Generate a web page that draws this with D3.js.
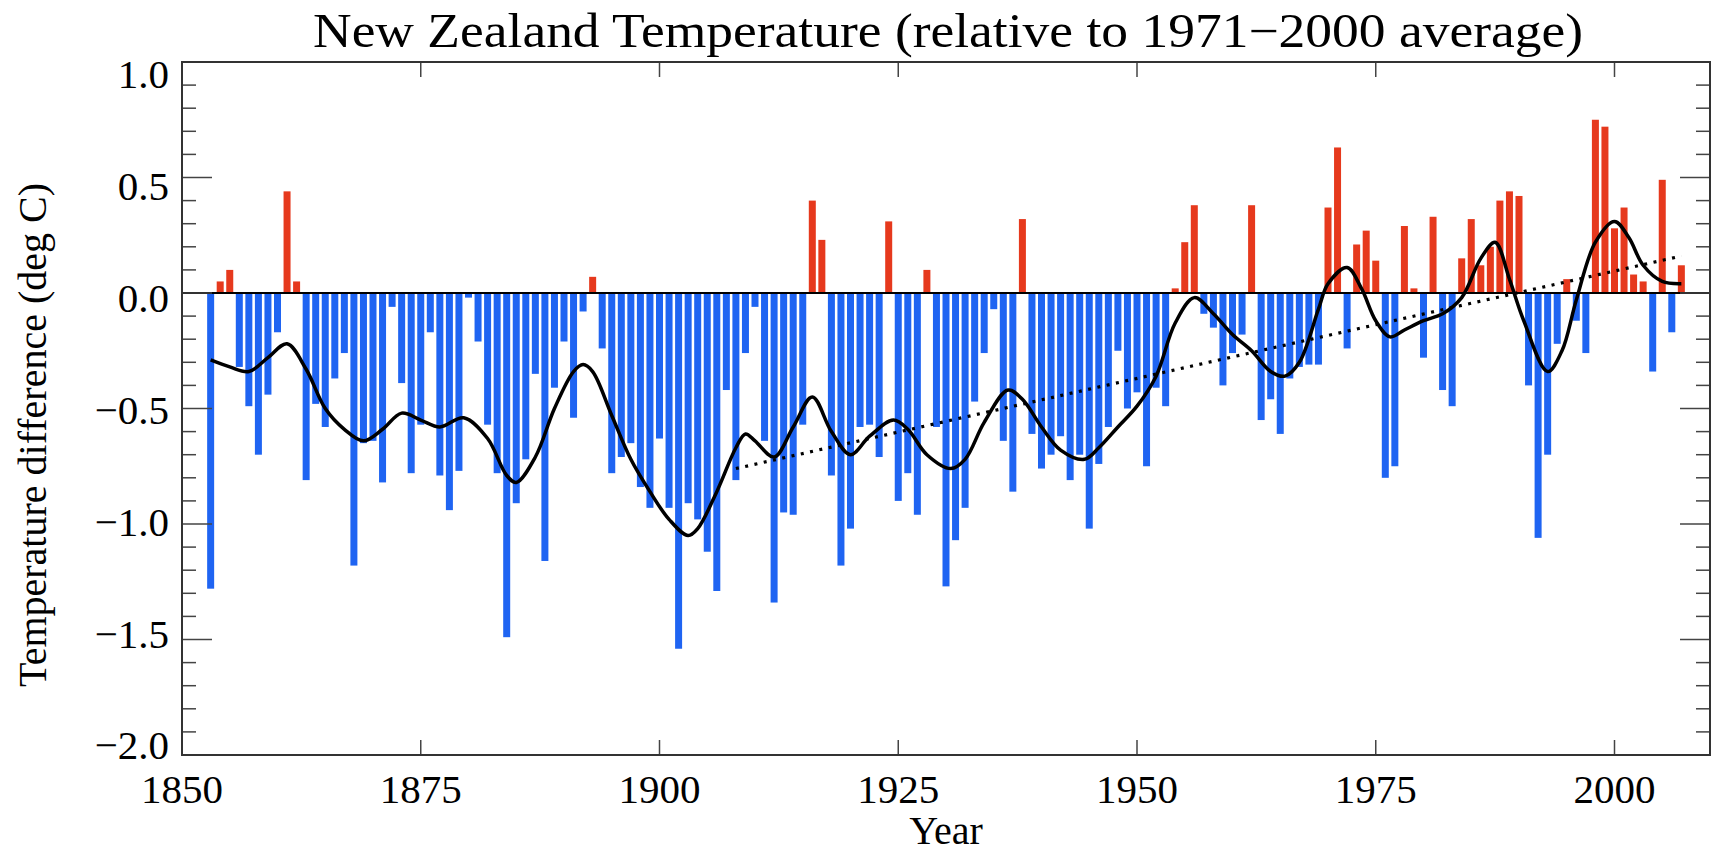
<!DOCTYPE html>
<html>
<head>
<meta charset="utf-8">
<script src="https://cdn.jsdelivr.net/npm/d3@7/dist/d3.min.js"></script>
<style>
  html, body { margin: 0; padding: 0; background: #fff; }
  svg { display: block; }
  text { font-family: "Liberation Serif", "DejaVu Serif", serif; fill: #000; }
</style>
</head>
<body>
<svg id="chart" width="1717" height="856"></svg>
<script>
'use strict';

// annual anomalies, deg C, 1853..2007
var firstYear = 1853;
var anomalies = [
  -1.28, 0.05, 0.10, -0.32, -0.49, -0.70, -0.44, -0.17, 0.44, 0.05,
  -0.81, -0.48, -0.58, -0.37, -0.26, -1.18, -0.65, -0.64, -0.82, -0.06,
  -0.39, -0.78, -0.57, -0.17, -0.79, -0.94, -0.77, -0.02, -0.21, -0.57,
  -0.78, -1.49, -0.91, -0.72, -0.35, -1.16, -0.41, -0.21, -0.54, -0.08,
  0.07, -0.24, -0.78, -0.71, -0.65, -0.84, -0.93, -0.63, -0.93, -1.54,
  -0.91, -0.98, -1.12, -1.29, -0.42, -0.81, -0.26, -0.06, -0.64, -1.34,
  -0.95, -0.96, -0.57, 0.40, 0.23, -0.79, -1.18, -1.02, -0.58, -0.57,
  -0.71, 0.31, -0.90, -0.78, -0.96, 0.10, -0.58, -1.27, -1.07, -0.93,
  -0.47, -0.26, -0.07, -0.64, -0.86, 0.32, -0.61, -0.76, -0.70, -0.62,
  -0.81, -0.70, -1.02, -0.74, -0.58, -0.25, -0.50, -0.43, -0.75, -0.41,
  -0.49, 0.02, 0.22, 0.38, -0.09, -0.15, -0.40, -0.26, -0.18, 0.38,
  -0.55, -0.46, -0.61, -0.37, -0.32, -0.31, -0.31, 0.37, 0.63, -0.24,
  0.21, 0.27, 0.14, -0.80, -0.75, 0.29, 0.02, -0.28, 0.33, -0.42,
  -0.49, 0.15, 0.32, 0.12, 0.20, 0.40, 0.44, 0.42, -0.40, -1.06,
  -0.70, -0.22, 0.06, -0.12, -0.26, 0.75, 0.72, 0.28, 0.37, 0.08,
  0.05, -0.34, 0.49, -0.17, 0.12
];

// smoothed curve
var smoothYears = [
  1853, 1855, 1857, 1859, 1861, 1863, 1865, 1867, 1869, 1871,
  1873, 1875, 1877, 1879.5, 1882, 1884, 1885, 1887, 1889, 1891,
  1892, 1893, 1895, 1897, 1899, 1901, 1903, 1904, 1906, 1908,
  1909, 1910, 1912, 1914, 1916, 1918, 1920, 1922, 1924.5, 1926,
  1928, 1930.5, 1932, 1934, 1936.5, 1938, 1940, 1942, 1944.5, 1946,
  1948, 1950, 1952, 1954, 1956, 1958, 1960, 1962, 1964, 1965.5,
  1967, 1969, 1970, 1972, 1973.5, 1975, 1976.5, 1978, 1980, 1982,
  1984, 1986, 1987.5, 1989, 1990.5, 1993, 1994.5, 1996, 1998, 2000,
  2001.5, 2003, 2005, 2007
];
var smoothValues = [
  -0.29, -0.32, -0.34, -0.28, -0.22, -0.33, -0.50, -0.59, -0.64, -0.59,
  -0.52, -0.55, -0.58, -0.54, -0.63, -0.79, -0.82, -0.71, -0.50, -0.34,
  -0.31, -0.34, -0.53, -0.72, -0.86, -0.98, -1.05, -1.02, -0.86, -0.67,
  -0.61, -0.64, -0.71, -0.58, -0.45, -0.60, -0.70, -0.62, -0.55, -0.59,
  -0.70, -0.76, -0.72, -0.56, -0.42, -0.46, -0.58, -0.68, -0.72, -0.67,
  -0.58, -0.49, -0.36, -0.13, -0.02, -0.09, -0.18, -0.25, -0.34, -0.36,
  -0.30, -0.07, 0.04, 0.11, 0.02, -0.12, -0.19, -0.16, -0.12, -0.09,
  -0.02, 0.15, 0.22, 0.06, -0.12, -0.34, -0.25, -0.03, 0.22, 0.31,
  0.24, 0.12, 0.05, 0.04
];

// linear trend (dotted)
var trendYears = [1908, 2007];
var trendValues = [-0.76, 0.16];

var xTicks = [1850, 1875, 1900, 1925, 1950, 1975, 2000];
var yMajorTicks = [1.0, 0.5, 0.0, -0.5, -1.0, -1.5, -2.0];
var yMinorTicks = d3.range(-20, 11).map(function (d) { return d / 10; });

var titleText = 'New Zealand Temperature (relative to 1971\u22122000 average)';
var xTitle = 'Year';
var yTitle = 'Temperature difference (deg C)';

(function () {
  var plotLeft = 182, plotRight = 1710, plotTop = 62, plotBottom = 755,
      barW = 7,
      svg, x, y, yLabel, bars, ticks;

  svg = d3.select('#chart');

  x = d3.scaleLinear().domain([1850, 2010]).range([plotLeft, plotRight]);
  y = d3.scaleLinear().domain([-2, 1]).range([plotBottom, plotTop]);
  // tick labels in the original sit a little inside the ends
  yLabel = d3.scaleLinear().domain([-2, 1]).range([745, 74]);

  bars = anomalies.map(function (v, i) {
    return {year: firstYear + i, value: v};
  });

  svg.append('rect')
      .attr('width', 1717).attr('height', 856).attr('fill', '#fff');

  svg.append('g').selectAll('rect')
      .data(bars)
      .enter().append('rect')
      .attr('x', function (d) { return x(d.year) - barW / 2; })
      .attr('y', function (d) { return y(Math.max(0, d.value)); })
      .attr('width', barW)
      .attr('height', function (d) { return Math.abs(y(d.value) - y(0)); })
      .attr('fill', function (d) { return d.value >= 0 ? '#e6391d' : '#1f64f2'; });

  // zero line
  svg.append('line')
      .attr('x1', plotLeft).attr('x2', plotRight)
      .attr('y1', y(0)).attr('y2', y(0))
      .attr('stroke', '#000').attr('stroke-width', 2);

  // trend
  svg.append('path')
      .datum(trendYears.map(function (t, i) { return [t, trendValues[i]]; }))
      .attr('d', d3.line()
          .x(function (d) { return x(d[0]); })
          .y(function (d) { return y(d[1]); }))
      .attr('fill', 'none')
      .attr('stroke', '#000')
      .attr('stroke-width', 3.2)
      .attr('stroke-dasharray', '3,6.5');

  // smoothed
  svg.append('path')
      .datum(smoothYears.map(function (t, i) { return [t, smoothValues[i]]; }))
      .attr('d', d3.line()
          .curve(d3.curveCatmullRom.alpha(0.5))
          .x(function (d) { return x(d[0]); })
          .y(function (d) { return y(d[1]); }))
      .attr('fill', 'none')
      .attr('stroke', '#000')
      .attr('stroke-width', 3.5)
      .attr('stroke-linejoin', 'round');

  // ticks, inward on all four sides
  ticks = svg.append('g').attr('stroke', '#444').attr('stroke-width', 1.5);

  [plotLeft, plotRight].forEach(function (edge) {
    var dir = edge === plotLeft ? 1 : -1;
    ticks.selectAll(null)
        .data(yMinorTicks)
        .enter().append('line')
        .attr('x1', edge)
        .attr('x2', function (d) {
          var major = Math.abs(d * 2 - Math.round(d * 2)) < 1e-6;
          return edge + dir * (major ? 30 : 14);
        })
        .attr('y1', function (d) { return y(d); })
        .attr('y2', function (d) { return y(d); });
  });

  [plotBottom, plotTop].forEach(function (edge) {
    var dir = edge === plotBottom ? -1 : 1;
    ticks.selectAll(null)
        .data(xTicks)
        .enter().append('line')
        .attr('x1', function (d) { return x(d); })
        .attr('x2', function (d) { return x(d); })
        .attr('y1', edge)
        .attr('y2', edge + dir * 15);
  });

  // frame
  svg.append('rect')
      .attr('x', plotLeft).attr('y', plotTop)
      .attr('width', plotRight - plotLeft).attr('height', plotBottom - plotTop)
      .attr('fill', 'none')
      .attr('stroke', '#333')
      .attr('stroke-width', 2);

  // tick labels
  svg.append('g').selectAll('text')
      .data(xTicks)
      .enter().append('text')
      .attr('x', function (d) { return x(d); })
      .attr('y', 803)
      .attr('text-anchor', 'middle')
      .attr('font-size', 41)
      .text(function (d) { return d; });

  svg.append('g').selectAll('text')
      .data(yMajorTicks)
      .enter().append('text')
      .attr('x', 169)
      .attr('y', function (d) { return yLabel(d); })
      .attr('dy', '0.35em')
      .attr('text-anchor', 'end')
      .attr('font-size', 41)
      .text(function (d) { return d3.format('.1f')(d).replace('-', '\u2212'); });

  // titles
  svg.append('text')
      .attr('x', 948).attr('y', 47)
      .attr('text-anchor', 'middle')
      .attr('font-size', 48)
      .attr('textLength', 1270)
      .attr('lengthAdjust', 'spacingAndGlyphs')
      .text(titleText);

  svg.append('text')
      .attr('x', 946).attr('y', 844)
      .attr('text-anchor', 'middle')
      .attr('font-size', 40)
      .text(xTitle);

  svg.append('text')
      .attr('transform', 'translate(46,435) rotate(-90)')
      .attr('text-anchor', 'middle')
      .attr('font-size', 40)
      .text(yTitle);
})();
</script>
</body>
</html>
